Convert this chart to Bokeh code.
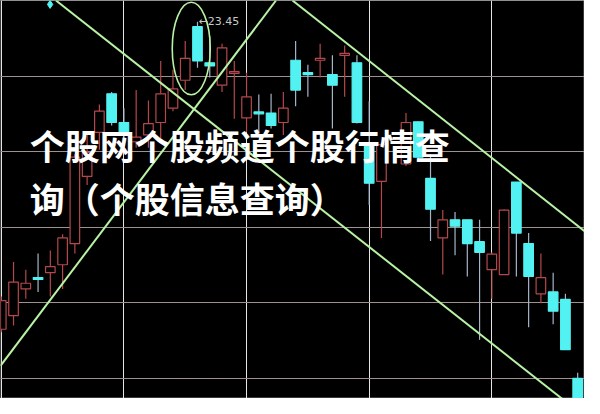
from bokeh.plotting import figure
from bokeh.models import Range1d, Grid, FixedTicker, ColumnDataSource
from bokeh.core.properties import value
from bokeh.embed import file_html
from bokeh.resources import INLINE

# ---- data ----
day = [0, 1, 2, 3, 4, 5, 6, 7, 8, 9, 10, 11, 12, 13, 14, 15, 16, 17, 18, 19,
       20, 21, 22, 23, 24, 25, 26, 27, 28, 29, 30, 31, 33, 34, 35, 36, 37, 38,
       39, 40, 41, 42, 43, 44, 45, 46, 47]
open_ = [15.30, 15.66, 16.37, 16.67, 16.80, 17.01, 17.57, 19.35, 20.52, 21.54,
         20.78, 20.27, 20.45, 20.78, 21.16, 21.90, 23.32, 22.36, 21.77, 22.08,
         20.90, 21.06, 21.03, 20.78, 22.43, 22.10, 22.43, 22.05, 22.56, 22.36,
         20.19, 19.22, 19.68, 20.80, 19.30, 17.72, 18.20, 18.20,
         17.62, 16.88, 16.75, 19.20, 17.57, 16.24, 16.29, 16.09, 14.00]
close = [16.06, 16.55, 16.52, 16.62, 16.96, 17.72, 19.86, 19.99, 21.08, 20.78,
         20.47, 20.39, 20.75, 21.54, 21.67, 22.48, 22.41, 22.28, 22.76, 22.13,
         21.46, 21.01, 20.70, 21.16, 21.64, 22.05, 22.48, 21.77, 22.61, 20.78,
         19.17, 20.19, 20.78, 19.86, 18.48, 18.20, 18.03, 17.57,
         17.34, 17.29, 18.46, 17.85, 16.70, 16.67, 15.78, 14.76, 13.31]
high = [16.17, 17.08, 16.88, 17.31, 17.39, 17.82, 19.94, 20.45, 21.26, 21.59,
        21.16, 21.64, 21.36, 22.41, 22.18, 22.94, 23.45, 23.07, 22.87, 22.41,
        22.10, 21.52, 21.54, 21.59, 22.94, 22.31, 22.87, 22.56, 22.82, 22.56,
        21.34, 20.24, 21.03, 20.80, 19.94, 18.46, 18.41, 18.20,
        18.20, 17.34, 18.48, 19.20, 17.85, 17.31, 16.80, 16.24, 14.15]
low = [15.22, 15.40, 16.11, 16.29, 16.17, 16.37, 17.31, 19.12, 20.06, 20.70,
       20.11, 20.11, 20.11, 20.27, 21.08, 21.64, 22.23, 21.97, 21.59, 20.88,
       20.52, 20.52, 20.62, 20.45, 21.21, 21.46, 21.97, 20.62, 21.46, 20.75,
       18.59, 17.72, 19.63, 19.76, 17.64, 16.75, 17.26, 16.70,
       15.02, 16.11, 16.75, 16.70, 15.35, 15.99, 15.43, 14.76, 13.31]

grid_levels = [14, 16, 18, 20, 22]
peak_label = "←23.45"
peak_day = 16
peak_value = 23.45

# trend lines (day, price) end points
trend_x0 = [4.46, -0.063, 23.75]
trend_y0 = [24.013, 14.33, 24.013]
trend_x1 = [47.56, 22.40, 47.56]
trend_y1 = [12.99, 24.013, 17.90]

ring_x, ring_y, ring_w, ring_h = 15.49, 22.74, 3.1, 2.45
mark_x, mark_y = 3.98, 23.91

title1 = "个股网个股频道个股行情查"
title2 = "询（个股信息查询）"

RED = "#b4484c"
CYAN = "#52f2f2"
CYAN_WICK = "#a6b4c8"
GREEN = "#b8f2a4"

up = dict(x=[], top=[], bottom=[], hi=[], lo=[])
dn = dict(x=[], top=[], bottom=[], hi=[], lo=[])
for d, o, c, h, l in zip(day, open_, close, high, low):
    t = up if c >= o else dn
    t["x"].append(d)
    t["top"].append(max(o, c))
    t["bottom"].append(min(o, c))
    t["hi"].append(h)
    t["lo"].append(l)
up_src = ColumnDataSource(up)
dn_src = ColumnDataSource(dn)

p = figure(width=584, height=398,
           x_range=Range1d(-0.063, 47.556), y_range=Range1d(13.465, 24.013),
           x_axis_location=None, y_axis_location=None,
           toolbar_location=None, output_backend="svg",
           background_fill_color="black", border_fill_color="black",
           min_border=0, outline_line_color="#3a3a3a")

p.add_layout(Grid(dimension=1, ticker=FixedTicker(ticks=grid_levels),
                  grid_line_color="#5a3c3c", grid_line_dash="1 1",
                  grid_line_width=1))

# wicks
p.segment(x0="x", y0="hi", x1="x", y1="lo", source=up_src,
          line_color=RED, line_width=1.2)
p.segment(x0="x", y0="hi", x1="x", y1="lo", source=dn_src,
          line_color=CYAN_WICK, line_width=1.2)
# bodies
p.vbar(x="x", top="top", bottom="bottom", width=0.78, source=up_src,
       fill_color="black", line_color=RED, line_width=1.2)
p.vbar(x="x", top="top", bottom="bottom", width=0.78, source=dn_src,
       fill_color=CYAN, line_color=CYAN, line_width=1.2)

# trend lines and ring
p.segment(x0=trend_x0, y0=trend_y0, x1=trend_x1, y1=trend_y1,
          line_color=GREEN, line_width=2)
p.ellipse(x=[ring_x], y=[ring_y], width=ring_w, height=ring_h,
          fill_alpha=0, line_color=GREEN, line_width=1.6)
p.scatter(x=[mark_x], y=[mark_y], marker="diamond", size=8,
          fill_color=CYAN, line_color=CYAN)

# peak label
p.text(x=[peak_day], y=[peak_value], text=[peak_label], x_offset=1,
       text_font=value("DejaVu Sans"), text_font_size="11px",
       text_color="#c8c8c8", text_baseline="middle", text_align="left")

# overlay title
p.text(x=[2.32], y=[20.19], text=[title1],
       text_font=value("Noto Sans CJK SC"), text_font_size="35px",
       text_font_style="bold", text_color="white",
       text_baseline="middle", text_align="left")
p.text(x=[2.32], y=[18.80], text=[title2],
       text_font=value("Noto Sans CJK SC"), text_font_size="35px",
       text_font_style="bold", text_color="white",
       text_baseline="middle", text_align="left")

open("out.html", "w").write(file_html(p, INLINE))
